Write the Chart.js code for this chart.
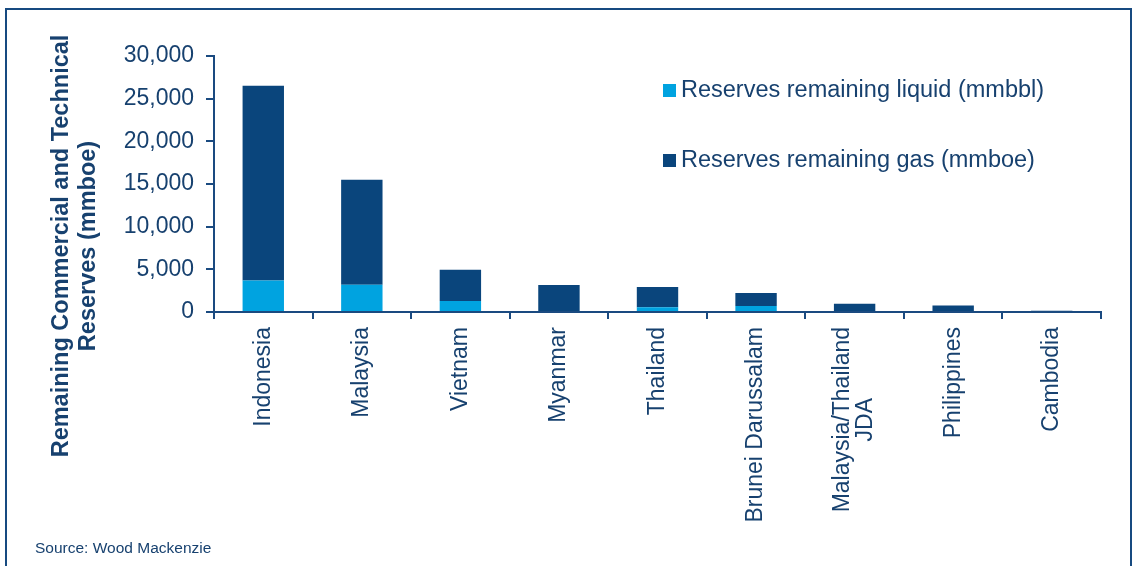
<!DOCTYPE html>
<html>
<head>
<meta charset="utf-8">
<script src="https://cdn.jsdelivr.net/npm/chart.js@4.4.0/dist/chart.umd.min.js"></script>
<style>
    html, body { margin: 0; padding: 0; background: #fff; }
    #wrap { position: relative; width: 1133px; height: 566px; }
</style>
</head>
<body>
<div id="wrap"><canvas id="reserves-chart"></canvas></div>
<script>
// *** DATA ***
const countries = ['Indonesia', 'Malaysia', 'Vietnam', 'Myanmar', 'Thailand', 'Brunei Darussalam',
    ['Malaysia/Thailand', 'JDA'], 'Philippines', 'Cambodia'];
const liquidReserves = [3700, 3200, 1300, 0, 550, 700, 0, 0, 0];
const gasReserves = [22800, 12300, 3650, 3150, 2380, 1520, 970, 770, 150];
const seriesNames = ['Reserves remaining liquid (mmbbl)', 'Reserves remaining gas (mmboe)'];
const yTicks = [0, 5000, 10000, 15000, 20000, 25000, 30000];
const yTitle = ['Remaining Commercial and Technical', 'Reserves (mmboe)'];
const sourceNote = 'Source: Wood Mackenzie';

const navy = '#0a457c';
const cyan = '#00a3e0';
const inkColor = '#17416f';
const lineColor = '#1a4a80';
const fontFamily = 'Arial, "Liberation Sans", sans-serif';

// Frame, axis title, category labels, legend and source note
const decorations = {
    id: 'decorations',
    afterDraw(chart) {
        const ctx = chart.ctx;
        const area = chart.chartArea;
        const xScale = chart.scales.x;
        ctx.save();

        // outer frame
        ctx.strokeStyle = '#174a80';
        ctx.lineWidth = 2;
        ctx.strokeRect(6, 9, 1125, 600);

        // y axis title, two lines rotated
        ctx.fillStyle = inkColor;
        ctx.font = 'bold 23.5px ' + fontFamily;
        ctx.textAlign = 'center';
        ctx.textBaseline = 'middle';
        ctx.save();
        ctx.translate(75, 246);
        ctx.rotate(-Math.PI / 2);
        yTitle.forEach((line, i) => {
            ctx.fillText(line, 0, (i - (yTitle.length - 1) / 2) * 27);
        });
        ctx.restore();

        // category labels, rotated, ending just under the axis
        ctx.font = '23px ' + fontFamily;
        chart.data.labels.forEach((label, idx) => {
            const lines = Array.isArray(label) ? label : [label];
            const x = xScale.getPixelForValue(idx);
            const longest = Math.max(...lines.map(l => ctx.measureText(l).width));
            ctx.save();
            ctx.translate(x, area.bottom + 15);
            ctx.rotate(-Math.PI / 2);
            lines.forEach((line, i) => {
                ctx.textAlign = lines.length > 1 ? 'center' : 'right';
                const tx = lines.length > 1 ? -longest / 2 : 0;
                ctx.fillText(line, tx, (i - (lines.length - 1) / 2) * 23);
            });
            ctx.restore();
        });

        // legend inside the plot, top right
        ctx.font = '23.5px ' + fontFamily;
        ctx.textAlign = 'left';
        chart.data.datasets.forEach((ds, i) => {
            const y = area.top + 35 + i * 70;
            ctx.fillStyle = ds.backgroundColor;
            ctx.fillRect(area.left + 449, y - 7, 13, 13);
            ctx.fillStyle = inkColor;
            ctx.fillText(ds.label, area.left + 467, y);
        });

        // source
        ctx.font = '15.5px ' + fontFamily;
        ctx.fillStyle = inkColor;
        ctx.fillText(sourceNote, 35, 549);

        ctx.restore();
    }
};

const reservesChart = new Chart(document.getElementById('reserves-chart'), {
    type: 'bar',
    data: {
        labels: countries,
        datasets: [{
            label: seriesNames[0],
            data: liquidReserves,
            backgroundColor: cyan,
            barPercentage: 0.42,
            categoryPercentage: 1
        }, {
            label: seriesNames[1],
            data: gasReserves,
            backgroundColor: navy,
            barPercentage: 0.42,
            categoryPercentage: 1
        }]
    },
    options: {
        responsive: true,
        maintainAspectRatio: false,
        animation: false,
        layout: {
            padding: { top: 56, right: 32, bottom: 0, left: 0 }
        },
        plugins: {
            legend: { display: false },
            tooltip: { enabled: false }
        },
        scales: {
            x: {
                stacked: true,
                offset: true,
                grid: {
                    offset: true,
                    drawOnChartArea: false,
                    tickLength: 7,
                    color: lineColor,
                    lineWidth: 2
                },
                border: { color: lineColor, width: 2 },
                ticks: { display: false },
                afterFit: (scale) => { scale.height = 566 - 312; }
            },
            y: {
                stacked: true,
                min: yTicks[0],
                max: yTicks[yTicks.length - 1],
                afterBuildTicks: (scale) => { scale.ticks = yTicks.map(v => ({ value: v })); },
                grid: {
                    drawOnChartArea: false,
                    tickLength: 8,
                    color: lineColor,
                    lineWidth: 2
                },
                border: { color: lineColor, width: 2 },
                ticks: {
                    color: inkColor,
                    padding: 12,
                    font: { family: fontFamily, size: 23 },
                    callback: (v) => v.toLocaleString('en-US')
                },
                afterFit: (scale) => { scale.width = 214; }
            }
        }
    },
    plugins: [decorations]
});
</script>
</body>
</html>
